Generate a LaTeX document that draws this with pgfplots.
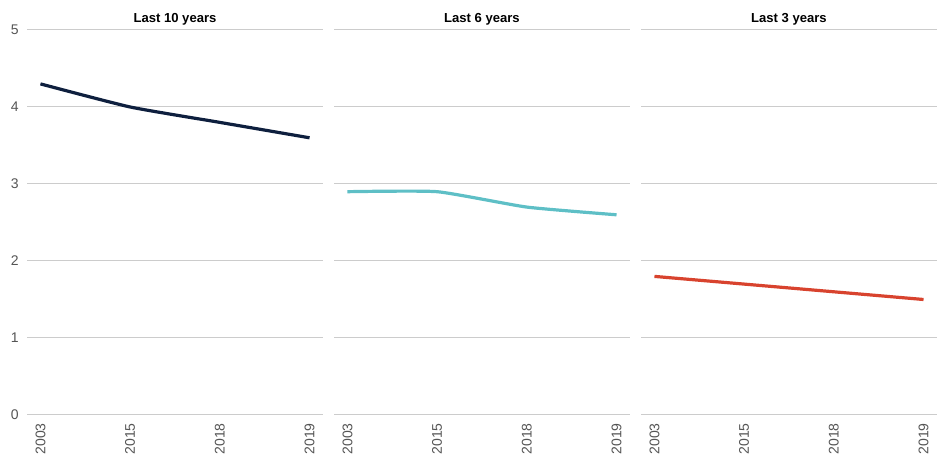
\documentclass[border=0pt]{standalone}
\usepackage{pgfplots}
\pgfplotsset{compat=1.18}
\usepackage{fontspec}
\setmainfont{Liberation Sans}
\definecolor{cnavy}{HTML}{0E1F3E}
\definecolor{cteal}{HTML}{5EBFC6}
\definecolor{cred}{HTML}{D8432E}
\definecolor{cgrid}{HTML}{CCCCCC}
\definecolor{clab}{HTML}{555555}
\pgfplotsset{
  panel/.style={
    scale only axis, width=222pt, height=288.75pt, anchor=south west,
    xmin=-0.15, xmax=3.15, ymin=0, ymax=5,
    axis line style={draw=none}, major tick length=0pt,
    ytick={0,1,2,3,4,5}, ymajorgrids, grid style={cgrid, line width=0.75pt},
    xtick={0,1,2,3}, xticklabels={2003,2015,2018,2019},
    xticklabel style={rotate=90, anchor=east, font=\fontsize{10.5}{12}\selectfont, text=clab, inner sep=0pt, xshift=-6pt},
    yticklabel style={font=\fontsize{10.5}{12}\selectfont, text=clab, inner sep=0pt, xshift=-6pt},
    /pgf/number format/assume math mode=true,
    title style={font=\bfseries\fontsize{9.8}{11}\selectfont, at={(0.5,1)}, anchor=south, yshift=-6pt},
    clip=false,
  }
}
\begin{document}
\begin{tikzpicture}
\path[use as bounding box] (0,0) rectangle (703.5pt,344.25pt);
\begin{axis}[panel, at={(20.25pt,33pt)}, title={Last 10 years}]
\addplot[cnavy, line width=2.4pt, smooth, tension=0.3] coordinates {(0,4.3) (1,4.0) (2,3.8) (3,3.6)};
\end{axis}
\begin{axis}[panel, at={(250.5pt,33pt)}, title={Last 6 years}, yticklabels={}]
\addplot[cteal, line width=2.4pt, smooth, tension=0.3] coordinates {(0,2.9) (1,2.9) (2,2.7) (3,2.6)};
\end{axis}
\begin{axis}[panel, at={(480.75pt,33pt)}, title={Last 3 years}, yticklabels={}]
\addplot[cred, line width=2.4pt, smooth, tension=0.3] coordinates {(0,1.8) (1,1.7) (2,1.6) (3,1.5)};
\end{axis}
\end{tikzpicture}
\end{document}
